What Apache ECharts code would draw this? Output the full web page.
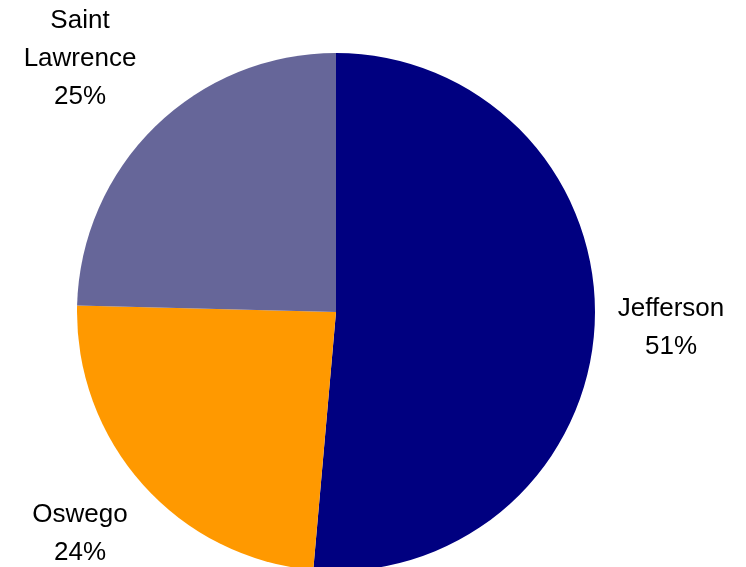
<!DOCTYPE html>
<html>
<head>
<meta charset="utf-8">
<script src="https://cdn.jsdelivr.net/npm/echarts@6/dist/echarts.min.js"></script>
<style>
  html, body { margin: 0; padding: 0; background: #fff; }
  #chart { width: 746px; height: 567px; }
</style>
</head>
<body>
<div id="chart"></div>
<script>
// county shares (percent)
const counties = ['Jefferson', 'Oswego', 'Saint\nLawrence'];
const shares = [51.4, 24.0, 24.6];
const colors = ['#000080', '#FF9900', '#666699'];

// where each label block sits
const labelSpots = [
  { x: 671, y: 328 },
  { x: 80, y: 534 },
  { x: 80, y: 59 }
];

const chart = echarts.init(document.getElementById('chart'));

const option = {
  animation: false,
  series: [{
    type: 'pie',
    center: [336, 312],
    radius: 259,
    startAngle: 90,
    clockwise: true,
    data: counties.map((name, i) => ({
      name: name,
      value: shares[i],
      itemStyle: { color: colors[i] }
    })),
    itemStyle: { borderWidth: 0 },
    label: {
      show: true,
      position: 'outside',
      color: '#000',
      fontFamily: '"Liberation Sans", Arial, sans-serif',
      fontSize: 26,
      lineHeight: 38,
      align: 'center',
      overflow: 'none',
      formatter: p => p.name + '\n' + Math.round(p.percent) + '%'
    },
    labelLine: { show: false },
    labelLayout: params => ({
      x: labelSpots[params.dataIndex].x,
      y: labelSpots[params.dataIndex].y,
      width: 240,
      align: 'center',
      verticalAlign: 'middle'
    })
  }]
};

chart.setOption(option);
</script>
</body>
</html>
